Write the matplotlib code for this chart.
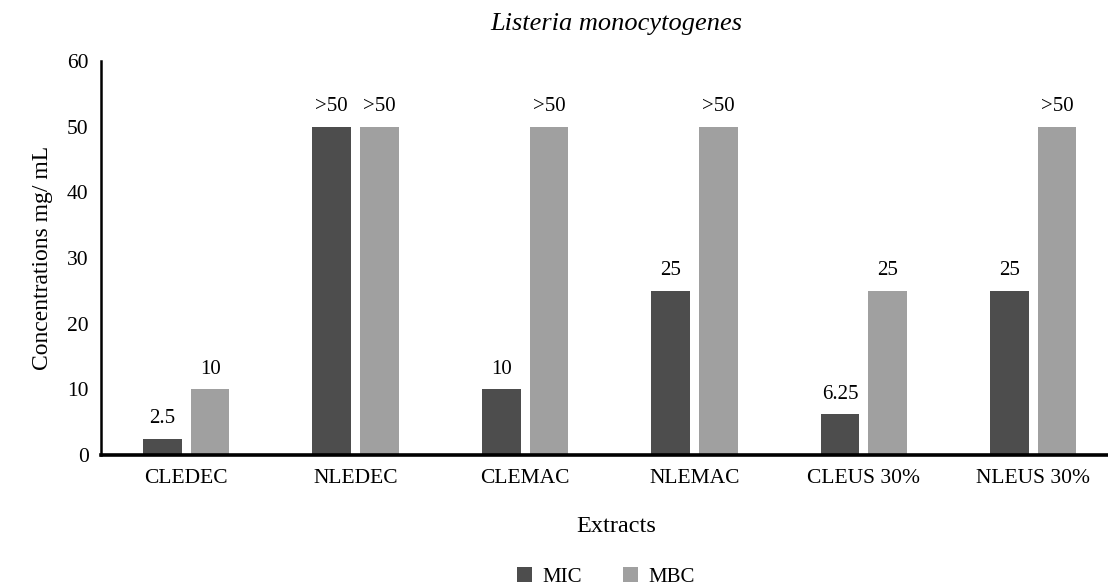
import matplotlib.pyplot as plt
import numpy as np

extracts = ['CLEDEC', 'NLEDEC', 'CLEMAC', 'NLEMAC', 'CLEUS 30%', 'NLEUS 30%']
mic = [2.5, 50, 10, 25, 6.25, 25]
mbc = [10, 50, 50, 50, 25, 50]
mic_labels = ['2.5', '>50', '10', '25', '6.25', '25']
mbc_labels = ['10', '>50', '>50', '>50', '25', '>50']

plt.rcParams['font.family'] = ['Liberation Serif', 'DejaVu Serif']

fig = plt.figure(figsize=(11.08, 5.85), dpi=100)
# axes run a bit past the right edge of the figure, as in the original
ax = fig.add_axes([0.0912, 0.222, 0.9296, 0.674])

x = np.arange(len(extracts))
w = 0.228
off = 0.141
b1 = ax.bar(x - off, mic, w, color='#4d4d4d', label='MIC')
b2 = ax.bar(x + off, mbc, w, color='#a0a0a0', label='MBC')

for bars, labels in ((b1, mic_labels), (b2, mbc_labels)):
    for rect, lab in zip(bars, labels):
        ax.text(rect.get_x() + rect.get_width() / 2, rect.get_height() + 1.6, lab,
                ha='center', va='bottom', fontsize=15)

ax.set_xlim(-0.503, 5.577)
ax.set_ylim(0, 60)
ax.set_yticks(range(0, 61, 10))
ax.set_xticks(x)
ax.set_xticklabels(extracts)
ax.tick_params(axis='both', length=0, labelsize=15.5)
ax.tick_params(axis='x', pad=10)
ax.tick_params(axis='y', pad=9)

for s in ['top', 'right']:
    ax.spines[s].set_visible(False)
ax.spines['left'].set_linewidth(1.8)
ax.spines['bottom'].set_linewidth(2.6)

ax.set_xlabel('Extracts', fontsize=17.5, labelpad=20)
ax.set_ylabel('Concentrations mg/ mL', fontsize=17, labelpad=10)
ax.set_title('Listeria monocytogenes', fontsize=19, style='italic', pad=22)

ax.legend(loc='upper center', bbox_to_anchor=(0.49, -0.274), ncol=2, frameon=False,
          fontsize=15, handlelength=0.7, handleheight=0.7, columnspacing=2.0,
          handletextpad=0.5, borderaxespad=0, borderpad=0.2)

fig.savefig('out.png', dpi=100)
